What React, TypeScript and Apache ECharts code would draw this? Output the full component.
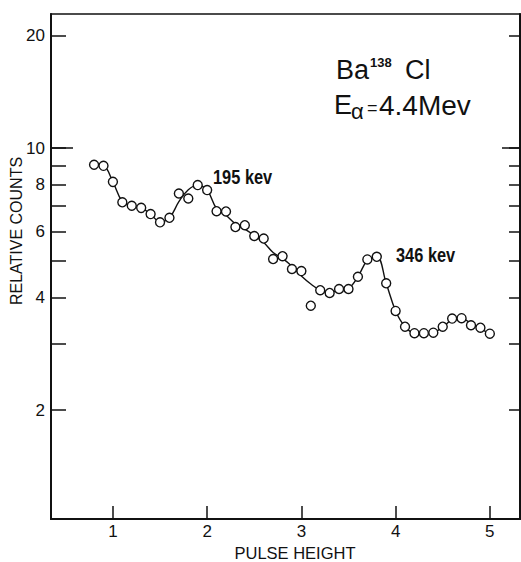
import React, { useEffect, useRef } from "react";
import * as echarts from "echarts";

const pulseHeight = [
  0.8, 0.9, 1.0, 1.1, 1.2, 1.3, 1.4, 1.5, 1.6, 1.7, 1.8, 1.9, 2.0, 2.1, 2.2,
  2.3, 2.4, 2.5, 2.6, 2.7, 2.8, 2.9, 3.0, 3.1, 3.2, 3.3, 3.4, 3.5, 3.6, 3.7,
  3.8, 3.9, 4.0, 4.1, 4.2, 4.3, 4.4, 4.5, 4.6, 4.7, 4.8, 4.9, 5.0,
];
const relativeCounts = [
  9.03, 8.97, 8.13, 7.17, 7.02, 6.93, 6.67, 6.34, 6.52, 7.57, 7.34, 7.97, 7.73,
  6.79, 6.78, 6.16, 6.23, 5.83, 5.74, 5.06, 5.15, 4.76, 4.7, 3.8, 4.18, 4.11,
  4.21, 4.21, 4.54, 5.05, 5.13, 4.36, 3.68, 3.34, 3.21, 3.21, 3.22, 3.34, 3.51,
  3.52, 3.37, 3.32, 3.2,
];
const fittedCounts = [
  9.03, 8.97, 8.13, 7.2, 7.02, 6.93, 6.67, 6.36, 6.52, 7.2, 7.75, 7.97, 7.72,
  6.9, 6.62, 6.28, 6.08, 5.85, 5.6, 5.27, 5.08, 4.84, 4.56, 4.34, 4.18, 4.12,
  4.19, 4.23, 4.54, 5.02, 5.13, 4.36, 3.68, 3.34, 3.21, 3.2, 3.22, 3.33, 3.49,
  3.52, 3.4, 3.3, 3.2,
];
const xTickValues = [1, 2, 3, 4, 5];
const yTickValues = [2, 3, 4, 5, 6, 7, 8, 9, 10, 20];
const yLongTickValues = [10];
const yLabelValues = [2, 4, 6, 8, 10, 20];
const peakLabels = [
  { text: "195 kev", x: 213, y: 177 },
  { text: "346 kev", x: 396, y: 255 },
];

const FONT = '"Liberation Sans", Arial, sans-serif';

export default function App() {
  const ref = useRef<HTMLDivElement>(null);
  useEffect(() => {
    if (!ref.current) return;
    const chart = echarts.init(ref.current, null, { renderer: "svg" });
    const points = pulseHeight.map((x, i) => [x, relativeCounts[i]]);
    const curve = pulseHeight.map((x, i) => [x, fittedCounts[i]]);
    const yAxisBase = {
      type: "log" as const,
      logBase: 10,
      min: 1.025,
      max: 22.8,
      splitLine: { show: false },
      minorTick: { show: false },
      axisLine: { show: true, lineStyle: { color: "#111", width: 2 } },
    };
    const tickStyle = { color: "#111", width: 1.5 };
    chart.setOption({
      animation: false,
      backgroundColor: "#fff",
      grid: {
        left: 51,
        right: 1,
        top: 14,
        bottom: 43,
        show: true,
        borderColor: "#111",
        borderWidth: 1.5,
        outerBoundsMode: "none",
      },
      xAxis: {
        type: "value",
        min: 0.343,
        max: 5.32,
        splitLine: { show: false },
        axisLine: { show: true, onZero: false, lineStyle: { color: "#111", width: 2 } },
        axisTick: {
          show: true,
          inside: true,
          length: 13,
          customValues: xTickValues,
          lineStyle: tickStyle,
        },
        axisLabel: {
          customValues: xTickValues,
          color: "#111",
          fontSize: 17,
          fontFamily: FONT,
          margin: 4,
        },
      },
      yAxis: [
        {
          ...yAxisBase,
          position: "left",
          axisTick: {
            show: true,
            inside: true,
            length: 15,
            customValues: yTickValues,
            lineStyle: tickStyle,
          },
          axisLabel: {
            customValues: yLabelValues,
            color: "#111",
            fontSize: 17,
            fontFamily: FONT,
            margin: 6,
          },
        },
        {
          ...yAxisBase,
          position: "right",
          axisTick: {
            show: true,
            inside: true,
            length: 11,
            customValues: yTickValues,
            lineStyle: tickStyle,
          },
          axisLabel: { show: false },
        },
        {
          ...yAxisBase,
          position: "left",
          axisLine: { show: false },
          axisTick: {
            show: true,
            inside: true,
            length: 22,
            customValues: yLongTickValues,
            lineStyle: tickStyle,
          },
          axisLabel: { show: false },
        },
        {
          ...yAxisBase,
          position: "right",
          axisLine: { show: false },
          axisTick: {
            show: true,
            inside: true,
            length: 18,
            customValues: yLongTickValues,
            lineStyle: tickStyle,
          },
          axisLabel: { show: false },
        },
      ],
      series: [
        {
          type: "line",
          data: curve,
          smooth: 0.4,
          showSymbol: false,
          symbol: "none",
          lineStyle: { color: "#111", width: 1.4 },
          z: 2,
        },
        {
          type: "scatter",
          data: points,
          symbol: "circle",
          symbolSize: 9,
          itemStyle: { color: "#fff", borderColor: "#111", borderWidth: 1.4, opacity: 1 },
          z: 3,
        },
      ],
      graphic: [
        {
          type: "text",
          x: 16,
          y: 231,
          rotation: Math.PI / 2,
          style: {
            text: "RELATIVE COUNTS",
            font: `16px ${FONT}`,
            fill: "#111",
            align: "center",
            verticalAlign: "middle",
          },
        },
        {
          type: "text",
          x: 295,
          y: 553,
          style: {
            text: "PULSE HEIGHT",
            font: `16.5px ${FONT}`,
            fill: "#111",
            align: "center",
            verticalAlign: "middle",
          },
        },
        ...peakLabels.map((p) => ({
          type: "text",
          x: p.x,
          y: p.y,
          scaleX: 0.82,
          style: {
            text: p.text,
            font: `bold 20px ${FONT}`,
            fill: "#111",
            align: "left",
            verticalAlign: "middle",
          },
        })),
        {
          type: "text",
          x: 336,
          y: 70,
          style: { text: "Ba", font: `27px ${FONT}`, fill: "#111", align: "left", verticalAlign: "middle" },
        },
        {
          type: "text",
          x: 370,
          y: 62,
          style: { text: "138", font: `bold 13px ${FONT}`, fill: "#111", align: "left", verticalAlign: "middle" },
        },
        {
          type: "text",
          x: 405,
          y: 70,
          style: { text: "Cl", font: `27px ${FONT}`, fill: "#111", align: "left", verticalAlign: "middle" },
        },
        {
          type: "text",
          x: 334,
          y: 105,
          style: { text: "E", font: `27px ${FONT}`, fill: "#111", align: "left", verticalAlign: "middle" },
        },
        {
          type: "text",
          x: 351,
          y: 111,
          style: { text: "α", font: `22px ${FONT}`, fill: "#111", align: "left", verticalAlign: "middle" },
        },
        {
          type: "text",
          x: 367,
          y: 108,
          style: { text: "=", font: `18px ${FONT}`, fill: "#111", align: "left", verticalAlign: "middle" },
        },
        {
          type: "text",
          x: 379,
          y: 105,
          style: { text: "4.4Mev", font: `28px ${FONT}`, fill: "#111", align: "left", verticalAlign: "middle" },
        },
      ],
    });
    return () => chart.dispose();
  }, []);
  return (
    <div
      ref={ref}
      style={{ position: "absolute", left: 0, top: 0, width: 521, height: 562 }}
    />
  );
}
